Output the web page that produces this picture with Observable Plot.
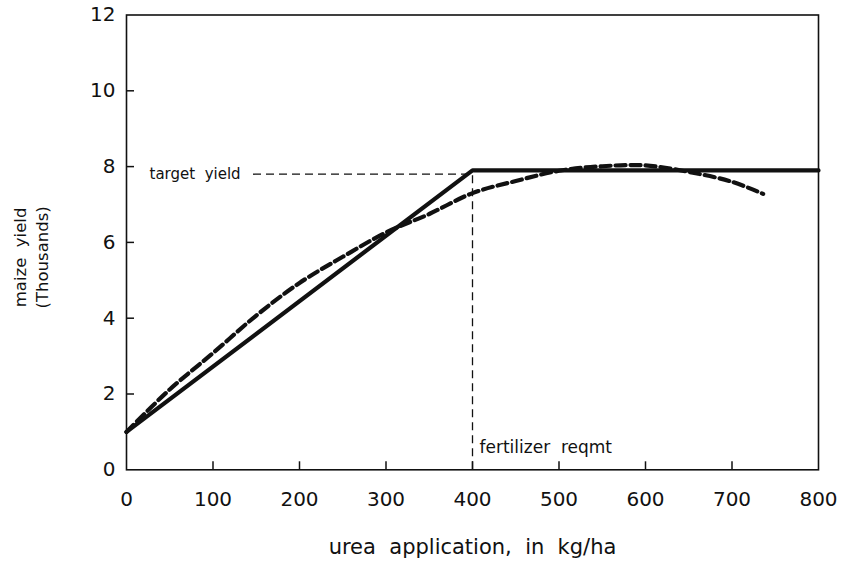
<!DOCTYPE html>
<html><head><meta charset="utf-8">
<script src="https://cdn.jsdelivr.net/npm/d3@7"></script>
<script src="https://cdn.jsdelivr.net/npm/@observablehq/plot@0.6"></script>
<style>body{margin:0;background:#fff}</style>
</head><body><div id="chart"></div>
<script>
// Tick values
const xTicks = [0, 100, 200, 300, 400, 500, 600, 700, 800];
const yTicks = [0, 2, 4, 6, 8, 10, 12];

// Linear-plateau response (solid)
const solidX = [0, 400, 800];
const solidY = [1.0, 7.9, 7.9];

// Quadratic response (dashed)
const dashX = [0, 50, 100, 150, 200, 250, 300, 350, 400, 450, 500, 550, 600, 650, 700, 736];
const dashY = [1.0, 2.12, 3.08, 4.07, 4.93, 5.62, 6.26, 6.75, 7.3, 7.62, 7.89, 8.01, 8.03, 7.86, 7.6, 7.28];

// Reference values
const targetYield = 7.8;
const fertReqmt = 400;

const solid = solidX.map((x, i) => ({x, y: solidY[i]}));
const dashed = dashX.map((x, i) => ({x, y: dashY[i]}));

const ink = "#111";
const W = 844, H = 567, mL = 126, mR = 26, mT = 14.5, mB = 97.7;
const tickPx = 8;
const xTickLen = 800 * tickPx / (W - mL - mR); // tick length in x units
const yTickLen = 12 * tickPx / (H - mT - mB);  // tick length in y units

const chart = Plot.plot({
  width: W, height: H,
  marginLeft: mL, marginRight: mR, marginTop: mT, marginBottom: mB,
  style: {fontFamily: "DejaVu Sans", background: "#fff", color: ink},
  x: {domain: [0, 800]},
  y: {domain: [0, 12]},
  marks: [
    Plot.axisX(xTicks, {tickSize: 0, tickPadding: 22, fontSize: 20, label: null}),
    Plot.axisY(yTicks, {tickSize: 0, tickPadding: 11, fontSize: 20, label: null}),
    Plot.ruleX(xTicks.slice(1, -1), {x: d => d, y1: 0, y2: yTickLen, stroke: ink, strokeWidth: 1.5}),
    Plot.ruleY(yTicks.slice(1, -1), {y: d => d, x1: 0, x2: xTickLen, stroke: ink, strokeWidth: 1.5}),
    Plot.ruleY([targetYield], {y: d => d, x1: 0, x2: fertReqmt, insetLeft: 127, stroke: ink, strokeWidth: 1.3, strokeDasharray: "8,5"}),
    Plot.ruleX([fertReqmt], {x: d => d, y1: 0, y2: targetYield, stroke: ink, strokeWidth: 1.3, strokeDasharray: "8,5"}),
    Plot.text([targetYield], {x: 0, y: d => d, text: () => "target\u00a0 yield", textAnchor: "start", dx: 23, fontSize: 15, fill: ink}),
    Plot.text([fertReqmt], {x: d => d, y: 0, text: () => "fertilizer\u00a0 reqmt", textAnchor: "start", dx: 7, dy: -22, fontSize: 17, fill: ink}),
    Plot.line(dashed, {x: "x", y: "y", stroke: ink, strokeWidth: 4.2, strokeDasharray: "10,5", curve: "catmull-rom"}),
    Plot.line(solid, {x: "x", y: "y", stroke: ink, strokeWidth: 4.2}),
    Plot.frame({stroke: ink, strokeWidth: 1.6}),
    Plot.text(["urea\u00a0 application,\u00a0 in\u00a0 kg/ha"], {frameAnchor: "bottom", dy: 84, fontSize: 21, text: d => d, fill: ink}),
    Plot.text(["maize\u00a0 yield\n(Thousands)"], {frameAnchor: "left", textAnchor: "middle", dx: -97, dy: 15, rotate: -90, lineHeight: 1.35, fontSize: 16.5, text: d => d, fill: ink})
  ]
});
document.getElementById("chart").appendChild(chart);
</script>
</body></html>
